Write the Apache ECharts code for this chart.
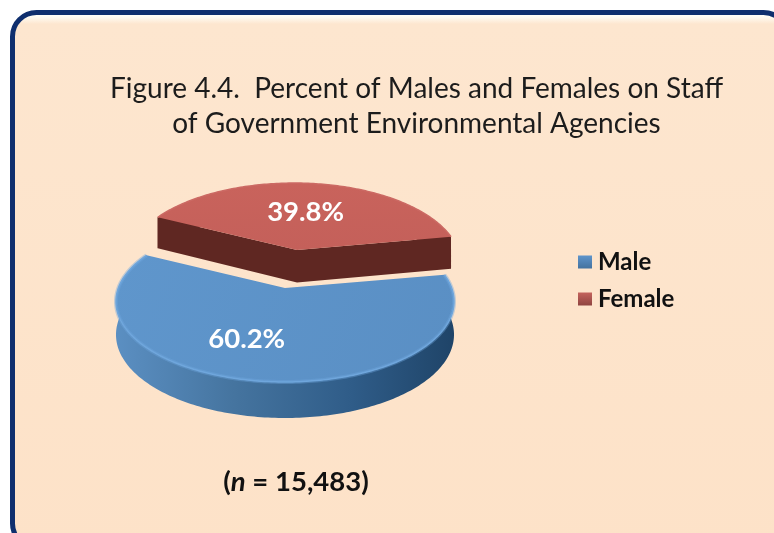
<!DOCTYPE html>
<html><head><meta charset="utf-8">
<style>html,body{margin:0;padding:0;background:#fff}#c{width:774px;height:533px}</style>
<script src="https://cdn.jsdelivr.net/npm/echarts@6/dist/echarts.min.js"></script>
</head><body><div id="c"></div>
<script>
const categories = ['Male', 'Female'];
const shares = [60.2, 39.8];
const sampleSize = '15,483';
const titleLines = ['Figure 4.4.  Percent of Males and Females on Staff', 'of Government Environmental Agencies'];

const chart = echarts.init(document.getElementById('c'), null, {renderer: 'canvas'});
const LG = echarts.graphic.LinearGradient;

// Projection of the tilted disc
const P = 0.168, RX = 166.6, RY = 78.2, START = 80;
const total = shares.reduce((a, b) => a + b, 0);
const layout = {
  Male:   {from: START, ox: 285, oy: 288, sx: 1, apexShift: 0, labelR: 0.625, labelShift: 11},
  Female: {from: START + shares[0] / total * 360, ox: 294, oy: 250, sx: 0.985, apexShift: 3, labelR: 0.53, labelShift: 0}
};
function proj(l, deg, r) {
  const a = deg * Math.PI / 180, u = r * Math.sin(a), v = r * Math.cos(a), w = 1 + P * v;
  return {x: l.ox + l.sx * RX * u / w, y: l.oy - RY * v / w, v};
}
function depth(v) { return 32.5 - 3.5 * v; }
function down(p) { return [p.x, p.y + depth(p.v)]; }
function arc(l, a0, a1) {
  const n = Math.max(2, Math.round(Math.abs(a1 - a0))), out = [];
  for (let i = 0; i <= n; i++) out.push(proj(l, a0 + (a1 - a0) * i / n, 1));
  return out;
}
const styles = {
  Male: {
    top: new LG(0, 0, 1, 1, [{offset: 0, color: '#5f96cc'}, {offset: 1, color: '#5a8fc4'}]),
    wall: new LG(0, 0, 1, 0, [{offset: 0, color: '#5b8fc2'}, {offset: 0.35, color: '#45749f'}, {offset: 0.7, color: '#2f5c88'}, {offset: 1, color: '#1f4468'}]),
    rim: '#6fa6dc', glow: 0.4
  },
  Female: {
    top: new LG(0, 0, 0, 1, [{offset: 0, color: '#c9635c'}, {offset: 1, color: '#c4605a'}]),
    wall: '#5f2722',
    rim: '#cc6a64', glow: 0
  }
};
function renderSlice(name) {
  return function (params, api) {
    const l = layout[name], s = styles[name];
    const sweep = api.value(0) / total * 360;
    const a0 = l.from, a1 = l.from + sweep;
    const rim = arc(l, a0, a1);
    const apex = proj(l, 0, 0);
    apex.x += l.apexShift;
    const pts = p => [p.x, p.y];
    const children = [];
    // outer wall
    const wall = rim.map(pts).concat(rim.slice().reverse().map(down));
    children.push({type: 'polygon', shape: {points: wall}, style: {fill: s.wall, stroke: null}});
    // cut faces are visible on the far slice
    if (name === 'Female') {
      [rim[0], rim[rim.length - 1]].forEach(e => {
        children.push({type: 'polygon', shape: {points: [pts(e), pts(apex), down(apex), down(e)]}, style: {fill: s.wall}});
      });
    }
    // top face
    children.push({type: 'polygon', shape: {points: [pts(apex)].concat(rim.map(pts))}, style: {fill: s.top}});
    // light rim with a soft bevel
    if (s.glow) children.push({type: 'polyline', shape: {points: rim.map(pts)}, style: {stroke: s.rim, lineWidth: 4, fill: null, opacity: s.glow}});
    children.push({type: 'polyline', shape: {points: rim.map(pts)}, style: {stroke: s.rim, lineWidth: 1.5, fill: null}});
    const mid = proj(l, (a0 + a1) / 2 + l.labelShift, l.labelR);
    children.push({type: 'text', style: {
      text: api.value(0).toFixed(1) + '%', x: mid.x, y: mid.y, align: 'center', verticalAlign: 'middle',
      fill: '#fff', font: 'bold 27.5px Lato'
    }});
    return {type: 'group', children};
  };
}
chart.setOption({
  animation: false,
  backgroundColor: '#fff',
  title: [
    {text: titleLines.join('\n'), left: 411.5, top: 66, textAlign: 'center',
     textStyle: {fontFamily: 'Lato', fontWeight: 'normal', fontSize: 28, lineHeight: 35, color: '#1c1c1c'}},
    {text: '{b|(}{i|n}{b| = ' + sampleSize + ')}', left: 291, top: 463, textAlign: 'center',
     textStyle: {rich: {
       b: {fontFamily: 'Lato', fontWeight: 'bold', fontSize: 27.5, color: '#111'},
       i: {fontFamily: 'Lato', fontWeight: 'bold', fontStyle: 'italic', fontSize: 27.5, color: '#111'}}}}
  ],
  legend: {
    orient: 'vertical', left: 573, top: 245, itemWidth: 14, itemHeight: 13, itemGap: 13, icon: 'rect',
    selectedMode: false,
    textStyle: {fontFamily: 'Lato', fontWeight: 'bold', fontSize: 24, color: '#111', padding: [0, 0, 0, 1]},
    data: [
      {name: categories[0], itemStyle: {color: new LG(0, 0, 0, 1, [{offset: 0, color: '#5e94cb'}, {offset: 1, color: '#44729f'}])}},
      {name: categories[1], itemStyle: {color: new LG(0, 0, 0, 1, [{offset: 0, color: '#c4635d'}, {offset: 1, color: '#8f4440'}])}}
    ]
  },
  graphic: [
    {type: 'rect', z: -10, silent: true,
     shape: {x: 12.5, y: 12.5, width: 775, height: 535, r: 24},
     style: {stroke: '#0f2f6e', lineWidth: 5,
       fill: new LG(0, 0, 0, 1, [
         {offset: 0, color: '#ffffff'}, {offset: 0.012, color: '#fffcf4'},
         {offset: 0.026, color: '#fde6cf'}, {offset: 1, color: '#fde2c8'}])}}
  ],
  series: [
    {type: 'custom', name: categories[1], coordinateSystem: 'none', z: 3, renderItem: renderSlice('Female'), data: [[shares[1]]]},
    {type: 'custom', name: categories[0], coordinateSystem: 'none', z: 4, renderItem: renderSlice('Male'), data: [[shares[0]]]}
  ]
});
</script></body></html>
